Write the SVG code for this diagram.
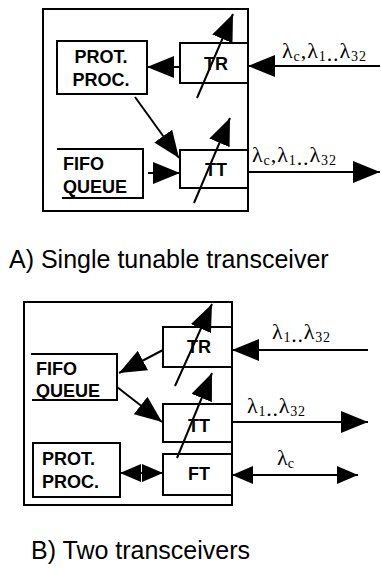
<svg xmlns="http://www.w3.org/2000/svg" width="381" height="574" viewBox="0 0 381 574">
<style>
.box{fill:none;stroke:#000;stroke-width:2}
.ln{fill:none;stroke:#000;stroke-width:2}
.lbl{font-family:"Liberation Sans",Arial,sans-serif;font-weight:bold;font-size:18px;fill:#000}
.cap{font-family:"Liberation Sans",Arial,sans-serif;font-size:25px;fill:#000}
.lam{font-family:"Liberation Serif","Times New Roman",serif;font-size:22px;fill:#000}
.sub{font-size:14px}
</style>
<defs>
<marker id="big" markerUnits="userSpaceOnUse" markerWidth="27" markerHeight="22" refX="27" refY="11" orient="auto-start-reverse" viewBox="0 0 27 22">
<path d="M0,0 L27,11 L0,22 z" fill="#000"/>
</marker>
<marker id="sm" markerUnits="userSpaceOnUse" markerWidth="21" markerHeight="18" refX="21" refY="9" orient="auto-start-reverse" viewBox="0 0 21 18">
<path d="M0,0 L21,9 L0,18 z" fill="#000"/>
</marker>
</defs>

<!-- Part A -->
<g id="A-outer"><rect class="box" x="43" y="9" width="205" height="202"/></g>
<g id="A-prot">
<rect class="box" x="57" y="41" width="90" height="53"/>
<text class="lbl" x="101" y="63" text-anchor="middle">PROT.</text>
<text class="lbl" x="101" y="86" text-anchor="middle">PROC.</text>
</g>
<g id="A-tr">
<rect class="box" x="180" y="43" width="68" height="40"/>
<text class="lbl" x="216" y="70" text-anchor="middle">TR</text>
</g>
<g id="A-tt">
<rect class="box" x="180" y="150" width="68" height="38"/>
<text class="lbl" x="216" y="176" text-anchor="middle">TT</text>
</g>
<g id="A-fifo">
<polyline class="box" points="57,149 143,149 143,198 62,198"/>
<text class="lbl" x="63" y="170">FIFO</text>
<text class="lbl" x="63" y="193">QUEUE</text>
</g>
<g id="A-connectors">
<line class="ln" x1="380" y1="66" x2="248" y2="66" marker-end="url(#big)"/>
<line class="ln" x1="180" y1="67" x2="147" y2="67" marker-end="url(#big)"/>
<line class="ln" x1="135" y1="97" x2="179" y2="158" marker-end="url(#big)"/>
<line class="ln" x1="148" y1="173" x2="180" y2="173" marker-end="url(#big)"/>
<line class="ln" x1="248" y1="172" x2="380" y2="172" marker-end="url(#big)"/>
<line class="ln" x1="197" y1="98" x2="233" y2="14" marker-end="url(#big)"/>
<line class="ln" x1="194" y1="203" x2="230" y2="118" marker-end="url(#big)"/>
</g>
<g id="A-labels">
<text class="lam" x="282" y="58" textLength="84" lengthAdjust="spacing">λ<tspan class="sub" dy="3">c</tspan><tspan dy="-3">,λ</tspan><tspan class="sub" dy="3">1</tspan><tspan dy="0">..</tspan><tspan dy="-3">λ</tspan><tspan class="sub" dy="3">32</tspan></text>
<text class="lam" x="252" y="162" textLength="84" lengthAdjust="spacing">λ<tspan class="sub" dy="3">c</tspan><tspan dy="-3">,λ</tspan><tspan class="sub" dy="3">1</tspan><tspan dy="0">..</tspan><tspan dy="-3">λ</tspan><tspan class="sub" dy="3">32</tspan></text>
</g>
<text class="cap" x="9" y="268">A) Single tunable transceiver</text>

<!-- Part B -->
<g id="B-outer"><rect class="box" x="24" y="302" width="208" height="203"/></g>
<g id="B-tr">
<rect class="box" x="163" y="327" width="69" height="40"/>
<text class="lbl" x="199" y="353" text-anchor="middle">TR</text>
</g>
<g id="B-tt">
<rect class="box" x="163" y="404" width="69" height="38"/>
<text class="lbl" x="199" y="432" text-anchor="middle">TT</text>
</g>
<g id="B-ft">
<rect class="box" x="163" y="454" width="69" height="41"/>
<text class="lbl" x="199" y="480" text-anchor="middle">FT</text>
</g>
<g id="B-fifo">
<polyline class="box" points="31,354 117,354 117,400 32,400"/>
<text class="lbl" x="36" y="375">FIFO</text>
<text class="lbl" x="36" y="397">QUEUE</text>
</g>
<g id="B-prot">
<rect class="box" x="33" y="443" width="87" height="54"/>
<text class="lbl" x="42" y="465">PROT.</text>
<text class="lbl" x="42" y="488">PROC.</text>
</g>
<g id="B-connectors">
<line class="ln" x1="368" y1="350" x2="232" y2="350" marker-end="url(#big)"/>
<line class="ln" x1="163" y1="350" x2="119" y2="373" marker-end="url(#big)"/>
<line class="ln" x1="117" y1="387" x2="162" y2="422" marker-end="url(#big)"/>
<line class="ln" x1="232" y1="422" x2="368" y2="422" marker-end="url(#big)"/>
<line class="ln" x1="175" y1="386" x2="212" y2="304" marker-end="url(#big)"/>
<line class="ln" x1="177" y1="458" x2="212" y2="373" marker-end="url(#big)"/>
<line class="ln" x1="120" y1="473" x2="142" y2="473" marker-start="url(#sm)"/>
<line class="ln" x1="143" y1="466" x2="143" y2="480"/>
<line class="ln" x1="144" y1="473" x2="163" y2="473" marker-end="url(#sm)"/>
<line class="ln" x1="232" y1="475" x2="358" y2="475" marker-start="url(#sm)" marker-end="url(#sm)"/>
</g>
<g id="B-labels">
<text class="lam" x="272" y="339" textLength="58" lengthAdjust="spacing">λ<tspan class="sub" dy="3">1</tspan><tspan dy="0">..</tspan><tspan dy="-3">λ</tspan><tspan class="sub" dy="3">32</tspan></text>
<text class="lam" x="247" y="413" textLength="58" lengthAdjust="spacing">λ<tspan class="sub" dy="3">1</tspan><tspan dy="0">..</tspan><tspan dy="-3">λ</tspan><tspan class="sub" dy="3">32</tspan></text>
<text class="lam" x="277" y="465">λ<tspan class="sub" dy="3">c</tspan></text>
</g>
<text class="cap" x="31" y="559">B) Two transceivers</text>
</svg>
